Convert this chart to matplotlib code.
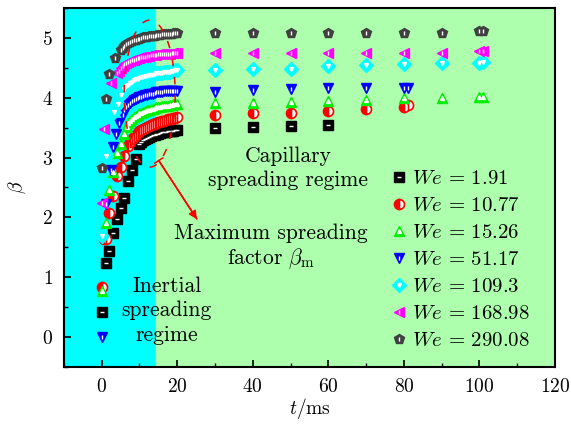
import numpy as np
import matplotlib
matplotlib.use("Agg")
import matplotlib.pyplot as plt
from matplotlib.patches import Ellipse

plt.rcParams['font.family'] = 'serif'
plt.rcParams['font.serif'] = ['cmr10', 'DejaVu Serif']
plt.rcParams['mathtext.fontset'] = 'cm'
plt.rcParams['axes.formatter.use_mathtext'] = True

# ---- data ----
# dense part of each curve uses 0.5 ms steps
t_dense_10 = [10, 10.5, 11, 11.5, 12, 12.5, 13, 13.5, 14, 14.5, 15, 15.5, 16,
              16.5, 17, 17.5, 18, 18.5, 19, 19.5, 20]
t_dense_7 = [7, 7.5, 8, 8.5, 9, 9.5] + t_dense_10
t_dense_6 = [6, 6.5] + t_dense_7
t_dense_5 = [5, 5.5] + t_dense_6
t_dense_45 = [4.5] + t_dense_5
t_late = [30, 40, 50, 60, 70, 80, 90, 100, 101]

t_we1 = [0, 1, 2, 3, 4, 5, 6, 7, 8, 9] + t_dense_10 + [30, 40, 50, 60]
b_we1 = [0.42, 1.24, 1.43, 1.73, 1.98, 2.15, 2.33, 2.61, 2.80, 2.97,
         3.22, 3.26, 3.29, 3.31, 3.33, 3.35, 3.36, 3.37, 3.38, 3.39, 3.40,
         3.41, 3.42, 3.42, 3.43, 3.44, 3.44, 3.45, 3.45, 3.46, 3.46,
         3.50, 3.51, 3.53, 3.55]

t_we2 = [0, 0.6, 1, 2, 3, 4, 5, 6] + t_dense_7 + [30, 40, 50, 60, 70, 80, 81]
b_we2 = [0.84, 1.64, 1.63, 2.08, 2.36, 2.70, 2.85, 3.03,
         3.20, 3.26, 3.31, 3.35, 3.38, 3.41, 3.44, 3.46, 3.48, 3.50, 3.52,
         3.53, 3.55, 3.56, 3.57, 3.58, 3.59, 3.60, 3.61, 3.62, 3.63, 3.64,
         3.65, 3.65, 3.66, 3.67, 3.68,
         3.72, 3.74, 3.75, 3.78, 3.81, 3.84, 3.88]

t_we3 = [0, 1, 2, 3, 4, 5, 6, 6.8] + t_dense_7 + t_late
b_we3 = [0.76, 1.91, 2.45, 2.76, 3.07, 3.23, 3.40, 3.51,
         3.58, 3.62, 3.65, 3.68, 3.70, 3.72, 3.74, 3.75, 3.77, 3.78, 3.79,
         3.80, 3.81, 3.82, 3.83, 3.84, 3.84, 3.85, 3.86, 3.86, 3.87, 3.87,
         3.88, 3.88, 3.89, 3.89, 3.90,
         3.91, 3.92, 3.93, 3.94, 3.96, 3.99, 4.00, 4.02, 4.02]

t_we4 = [0, 1.2, 2.4, 3.1, 3.7, 4.6, 5.5] + t_dense_6 + [30, 40, 50, 60, 70, 80, 81]
b_we4 = [0.0, 2.22, 2.79, 3.18, 3.40, 3.58, 3.72,
         3.80, 3.85, 3.88, 3.91, 3.94, 3.96, 3.98, 4.00, 4.01, 4.02, 4.03,
         4.04, 4.05, 4.06, 4.07, 4.07, 4.08, 4.09, 4.09, 4.10, 4.10, 4.11,
         4.11, 4.11, 4.12, 4.12, 4.12, 4.12, 4.12,
         4.10, 4.13, 4.14, 4.16, 4.16, 4.17, 4.17]

t_we5 = [0.2, 1, 3.2, 4.2, 5] + t_dense_6 + t_late
b_we5 = [1.68, 3.03, 3.77, 3.90, 4.05,
         4.15, 4.19, 4.22, 4.25, 4.27, 4.29, 4.31, 4.32, 4.33, 4.34, 4.35,
         4.36, 4.37, 4.38, 4.39, 4.39, 4.40, 4.41, 4.41, 4.42, 4.42, 4.43,
         4.43, 4.44, 4.44, 4.45, 4.45, 4.46, 4.46,
         4.47, 4.48, 4.49, 4.53, 4.55, 4.56, 4.59, 4.59, 4.60]

t_we6 = [0, 0.6, 2.4, 4.0] + t_dense_45 + t_late
b_we6 = [2.24, 3.47, 4.24, 4.41,
         4.45, 4.50, 4.53, 4.56, 4.58, 4.60, 4.62, 4.63, 4.64, 4.65, 4.66,
         4.67, 4.68, 4.69, 4.69, 4.70, 4.70, 4.71, 4.71, 4.72, 4.72, 4.73,
         4.73, 4.73, 4.74, 4.74, 4.74, 4.74, 4.75, 4.75, 4.75, 4.75,
         4.75, 4.75, 4.75, 4.75, 4.75, 4.75, 4.75, 4.78, 4.79]

t_we7 = [0, 1, 2, 3.5] + t_dense_5 + t_late
b_we7 = [2.82, 3.98, 4.40, 4.66,
         4.80, 4.84, 4.87, 4.90, 4.92, 4.94, 4.95, 4.96, 4.97, 4.98, 4.99,
         5.00, 5.01, 5.01, 5.02, 5.03, 5.03, 5.04, 5.04, 5.05, 5.05, 5.05,
         5.06, 5.06, 5.06, 5.07, 5.07, 5.07, 5.08, 5.08, 5.08,
         5.08, 5.08, 5.08, 5.08, 5.08, 5.08, 5.08, 5.11, 5.12]

labels = ['1.91', '10.77', '15.26', '51.17', '109.3', '168.98', '290.08']
series = [(t_we1, b_we1), (t_we2, b_we2), (t_we3, b_we3), (t_we4, b_we4),
          (t_we5, b_we5), (t_we6, b_we6), (t_we7, b_we7)]

# marker, colour, inner white mark
styles = [('s', 'black', '_'),
          ('o', 'red', None),
          ('^', '#00ee00', '^'),
          ('v', 'blue', '|'),
          ('D', 'cyan', 'v'),
          ('<', 'magenta', '|'),
          ('p', '#404040', '|')]

fig = plt.figure(figsize=(5.71, 4.29), dpi=100)
ax = fig.add_axes([0.112, 0.145, 0.860, 0.836])

ax.axvspan(-10, 14.3, color='#00ffff', zorder=0)
ax.axvspan(14.3, 120, color='#adffad', zorder=0)

handles = []
for (t, b), (m, c, inner), lab in zip(series, styles, labels):
    if m == 'o':
        h = ax.plot(t, b, ls='none', marker='o', ms=7.2, mfc=c, mec=c,
                    fillstyle='left', markerfacecoloralt='white', mew=1.2, zorder=3)[0]
        handles.append(h)
    else:
        h = ax.plot(t, b, ls='none', marker=m, ms=7.2, color=c, mec=c, zorder=3)[0]
        h2 = ax.plot(t, b, ls='none', marker=inner, ms=2.8, color='white',
                     mec='white', mew=1.0, zorder=4)[0]
        handles.append((h, h2))

# max spreading ellipse and arrow
ell = Ellipse((12.7, 4.07), 13.5, 2.46, fill=False, ec='red', lw=1.1,
              ls=(0, (5, 7)), zorder=5)
ax.add_patch(ell)
ax.annotate('', xy=(25.2, 1.97), xytext=(15.1, 2.95),
            arrowprops=dict(arrowstyle='-|>', color='red', lw=1.1,
                            mutation_scale=12, shrinkA=0, shrinkB=0))
ax.annotate('', xy=(25.2, 1.97), xytext=(15.1, 2.95),
            arrowprops=dict(arrowstyle=']-, widthA=0.35, lengthA=0', color='red',
                            lw=1.1, shrinkA=0, shrinkB=0))

ax.text(49.3, 2.82, 'Capillary\nspreading regime', ha='center', va='center',
        fontsize=15.5, linespacing=1.25)
ax.text(44.8, 1.5, 'Maximum spreading\nfactor $\\beta_{\\mathrm{m}}$', ha='center',
        va='center', fontsize=15.5, linespacing=1.2)
ax.text(17.2, 0.44, 'Inertial\nspreading\nregime', ha='center', va='center',
        fontsize=15.5, linespacing=1.32)

ax.legend(handles, ['$We\\,=\\,%s$' % l for l in labels], loc='lower right',
          bbox_to_anchor=(0.975, 0.012), frameon=False, fontsize=15,
          handletextpad=0.05, labelspacing=0.4, handlelength=1.2,
          borderaxespad=0.2)

ax.set_xlim(-10, 120)
ax.set_ylim(-0.5, 5.5)
ax.set_xticks(np.arange(0, 121, 20))
ax.set_xticks(np.arange(-10, 121, 10), minor=True)
ax.set_yticks(np.arange(0, 6, 1))
ax.set_yticks(np.arange(-0.5, 5.6, 0.5), minor=True)
ax.tick_params(which='both', direction='in', labelsize=14, top=False, right=False)
ax.tick_params(which='major', length=5, width=1.2, pad=8)
ax.tick_params(which='minor', length=3, width=1.0)
for s in ax.spines.values():
    s.set_linewidth(1.5)

ax.set_xlabel('$t/\\mathrm{ms}$', fontsize=14, labelpad=0)
ax.set_ylabel('$\\beta$', fontsize=14, labelpad=10)

fig.savefig('out.png', dpi=100)
